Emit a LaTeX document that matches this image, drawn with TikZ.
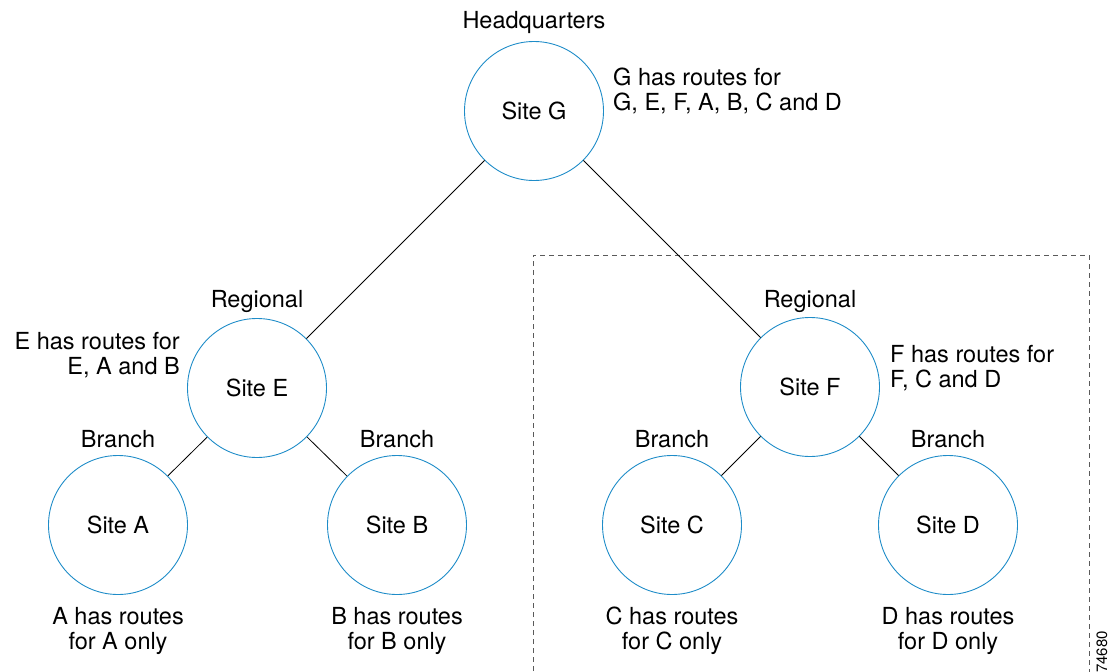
\documentclass[tikz,border=0pt]{standalone}
\usepackage{fontspec}
\setmainfont{TeX Gyre Heros}
\definecolor{siteblue}{RGB}{30,140,200}
\definecolor{dashgray}{RGB}{90,90,90}
\begin{document}
\begin{tikzpicture}[x=1pt,y=-1pt,
  site/.style={circle,draw=siteblue,line width=0.9pt,minimum size=139pt,inner sep=0pt,font=\fontsize{23.5}{26}\selectfont},
  lbl/.style={font=\fontsize{23.5}{25.5}\selectfont,inner sep=0pt},
  link/.style={draw=black,line width=0.8pt}]
\useasboundingbox (0,0) rectangle (1114,672);
\draw[dashgray,dashed,line width=0.8pt,dash pattern=on 5pt off 4pt] (533,680) -- (533,255) -- (1089,255) -- (1089,680);
\node[site] (G) at (534,111) {Site G};
\node[site] (E) at (257,388) {Site E};
\node[site] (F) at (810,387) {Site F};
\node[site] (A) at (118,525) {Site A};
\node[site] (B) at (397,525) {Site B};
\node[site] (C) at (672,525) {Site C};
\node[site] (D) at (948,525) {Site D};
\draw[link] (G) -- (E);
\draw[link] (G) -- (F);
\draw[link] (E) -- (A);
\draw[link] (E) -- (B);
\draw[link] (F) -- (C);
\draw[link] (F) -- (D);
\node[lbl] (hq) at (534,22) {Headquarters};
\node[lbl] (rE) at (257,301) {Regional};
\node[lbl] (rF) at (810,301) {Regional};
\node[lbl] (bA) at (118,439) {Branch};
\node[lbl] (bB) at (397,439) {Branch};
\node[lbl] (bC) at (672,439) {Branch};
\node[lbl] (bD) at (948,439) {Branch};
\node[lbl,anchor=west,align=left] (tG) at (613,91) {G has routes for\\G, E, F, A, B, C and D};
\node[lbl,anchor=east,align=right] (tE) at (180,355) {E has routes for\\E, A and B};
\node[lbl,anchor=west,align=left] (tF) at (890,368) {F has routes for\\F, C and D};
\node[lbl,align=center] (tA) at (118,631) {A has routes\\for A only};
\node[lbl,align=center] (tB) at (397,631) {B has routes\\for B only};
\node[lbl,align=center] (tC) at (672,631) {C has routes\\for C only};
\node[lbl,align=center] (tD) at (948,631) {D has routes\\for D only};
\node[font=\fontsize{15}{15}\selectfont,inner sep=0pt,rotate=90] (id) at (1102,652) {74680};
\end{tikzpicture}
\end{document}
